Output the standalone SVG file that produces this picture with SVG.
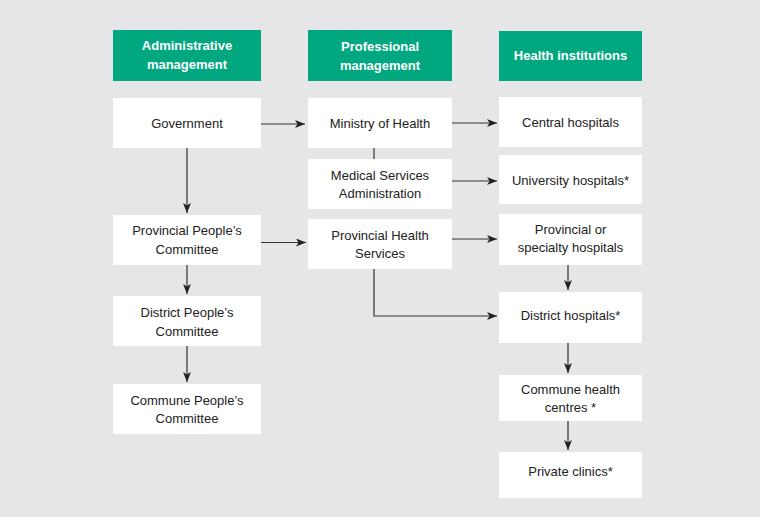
<svg xmlns="http://www.w3.org/2000/svg" width="760" height="517" viewBox="0 0 760 517">
<style>
.hdr{fill:#00a77f}
.box{fill:#ffffff}
.ht{font-family:"Liberation Sans",Arial,sans-serif;font-size:13px;font-weight:bold;fill:#ffffff;text-anchor:middle}
.t{font-family:"Liberation Sans",Arial,sans-serif;font-size:13px;fill:#222222;text-anchor:middle}
.c{fill:none;stroke:#333333;stroke-width:1.2}
</style>
<defs>
<marker id="ar" viewBox="0 0 10 8" refX="10" refY="4" markerWidth="10" markerHeight="8" markerUnits="userSpaceOnUse" orient="auto">
<path d="M0,0 L10,4 L0,8 L2.5,4 Z" fill="#222222"/>
</marker>
</defs>
<rect width="760" height="517" fill="#e6e6e8"/>
<g id="connectors">
<path class="c" d="M261,124 H305" marker-end="url(#ar)"/>
<path class="c" d="M452,123 H497" marker-end="url(#ar)"/>
<path class="c" d="M374,148 V159"/>
<path class="c" d="M452,181 H497" marker-end="url(#ar)"/>
<path class="c" d="M187,148 V213" marker-end="url(#ar)"/>
<path class="c" d="M261,242.5 H306" marker-end="url(#ar)"/>
<path class="c" d="M452,239 H497" marker-end="url(#ar)"/>
<path class="c" d="M374,269 V316 H497" marker-end="url(#ar)"/>
<path class="c" d="M187,265 V294" marker-end="url(#ar)"/>
<path class="c" d="M187,346 V382" marker-end="url(#ar)"/>
<path class="c" d="M568,264 V290" marker-end="url(#ar)"/>
<path class="c" d="M568,343 V373" marker-end="url(#ar)"/>
<path class="c" d="M568,421 V450" marker-end="url(#ar)"/>
</g>
<g id="h-admin"><rect class="hdr" x="113" y="30" width="148" height="51"/><text class="ht" x="187" y="50">Administrative</text><text class="ht" x="187" y="69">management</text></g>
<g id="h-prof"><rect class="hdr" x="308" y="30" width="144" height="51"/><text class="ht" x="380" y="51">Professional</text><text class="ht" x="380" y="70">management</text></g>
<g id="h-health"><rect class="hdr" x="499" y="31" width="143" height="50"/><text class="ht" x="570.5" y="60">Health institutions</text></g>
<g id="government"><rect class="box" x="113" y="98" width="148" height="50"/><text class="t" x="187" y="127.5">Government</text></g>
<g id="ministry"><rect class="box" x="308" y="98" width="144" height="50"/><text class="t" x="380" y="127.5">Ministry of Health</text></g>
<g id="central"><rect class="box" x="499" y="97" width="143" height="50"/><text class="t" x="570.5" y="127">Central hospitals</text></g>
<g id="msa"><rect class="box" x="308" y="159" width="144" height="50"/><text class="t" x="380" y="180">Medical Services</text><text class="t" x="380" y="198">Administration</text></g>
<g id="university"><rect class="box" x="499" y="155" width="143" height="49"/><text class="t" x="570.5" y="185">University hospitals*</text></g>
<g id="ppc"><rect class="box" x="113" y="215" width="148" height="50"/><text class="t" x="187" y="235">Provincial People’s</text><text class="t" x="187" y="253.5">Committee</text></g>
<g id="phs"><rect class="box" x="308" y="219" width="144" height="50"/><text class="t" x="380" y="240">Provincial Health</text><text class="t" x="380" y="258">Services</text></g>
<g id="provhosp"><rect class="box" x="499" y="214" width="143" height="51"/><text class="t" x="570.5" y="234">Provincial or</text><text class="t" x="570.5" y="252">specialty hospitals</text></g>
<g id="dpc"><rect class="box" x="113" y="296" width="148" height="50"/><text class="t" x="187" y="317">District People’s</text><text class="t" x="187" y="335.5">Committee</text></g>
<g id="disthosp"><rect class="box" x="499" y="292" width="143" height="51"/><text class="t" x="570.5" y="320">District hospitals*</text></g>
<g id="cpc"><rect class="box" x="113" y="384" width="148" height="50"/><text class="t" x="187" y="405">Commune People’s</text><text class="t" x="187" y="423">Committee</text></g>
<g id="chc"><rect class="box" x="499" y="375" width="143" height="46"/><text class="t" x="570.5" y="394">Commune health</text><text class="t" x="570.5" y="412">centres *</text></g>
<g id="private"><rect class="box" x="499" y="452" width="143" height="46"/><text class="t" x="570.5" y="476">Private clinics*</text></g>
</svg>
